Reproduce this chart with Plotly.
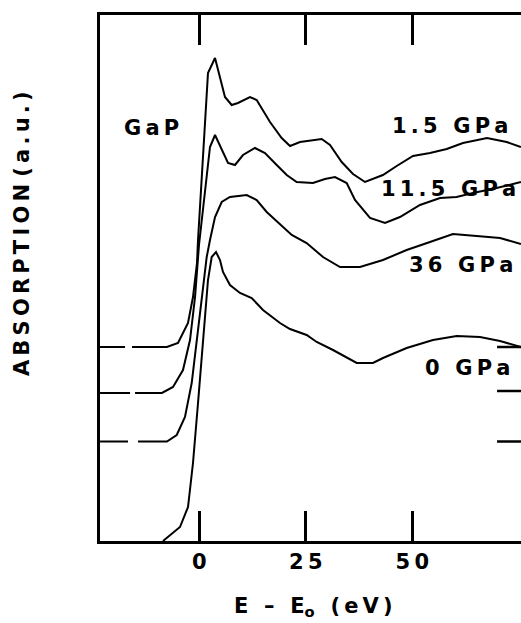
import plotly.graph_objects as go

# ---- data (E - E0 in eV, absorption in a.u. incl. vertical offset) ----
e_15 = [-23.3, -7.6, -5.0, -2.65, -1.48, -0.54, -0.3, 1.74, 2.04, 3.69, 6.03, 7.6, 9.08, 11.9,
        13.47, 16.6, 19.34, 21.3, 23.64, 28.73, 30.68, 33.43, 36.08, 38.9, 43.1, 46.34, 50.16,
        54.15, 58.08, 61.9, 67.54, 72.16, 75.5]
a_15 = [1.94, 1.94, 1.98, 2.18, 2.44, 2.78, 3.01, 4.41, 4.68, 4.83, 4.44, 4.36, 4.38, 4.44,
        4.41, 4.19, 4.03, 3.95, 3.99, 4.02, 3.96, 3.79, 3.67, 3.59, 3.66, 3.75, 3.85,
        3.88, 3.92, 3.98, 4.03, 3.99, 3.94]

e_115 = [-23.3, -8.76, -6.17, -3.83, -2.18, -1.0, -0.07, 1.74, 2.51, 3.69, 5.26, 6.74, 8.38,
         10.26, 13.07, 15.42, 18.17, 20.52, 22.86, 26.69, 29.5, 31.85, 34.6, 36.55, 40.07,
         43.6, 47.1, 51.8, 56.5, 60.4, 64.25, 69.8, 75.5]
a_115 = [1.48, 1.48, 1.54, 1.71, 2.01, 2.44, 2.96, 3.68, 3.94, 4.06, 3.91, 3.78, 3.76,
         3.86, 3.93, 3.88, 3.76, 3.66, 3.59, 3.58, 3.62, 3.64, 3.58, 3.41, 3.23,
         3.18, 3.24, 3.36, 3.43, 3.44, 3.48, 3.53, 3.59]

e_36 = [-23.3, -7.6, -5.3, -3.36, -1.78, -0.61, 0.56, 1.74, 2.51, 3.69, 5.26, 7.2, 11.13,
        13.47, 15.82, 18.47, 21.7, 25.2, 29.04, 33.03, 37.72, 43.12, 48.68, 54.15, 59.55,
        65.1, 70.6, 75.5]
a_36 = [0.995, 0.995, 1.06, 1.24, 1.58, 2.01, 2.44, 2.84, 3.01, 3.24, 3.39, 3.44, 3.46,
        3.41, 3.29, 3.19, 3.06, 2.98, 2.84, 2.74, 2.74, 2.81, 2.91, 2.99, 3.07,
        3.05, 3.03, 2.97]

e_0 = [-8.52, -4.53, -2.65, -1.48, -0.3, 0.87, 2.04, 2.91, 3.92, 4.86, 5.56, 7.2, 9.55, 12.3,
       14.95, 18.94, 21.29, 25.2, 27.56, 31.39, 34.6, 36.95, 40.77, 43.12, 48.68, 54.86,
       60.42, 65.89, 70.6, 74.1, 75.5]
a_0 = [0.0, 0.14, 0.34, 0.78, 1.38, 2.01, 2.61, 2.84, 2.89, 2.81, 2.69, 2.56, 2.48, 2.43,
       2.31, 2.18, 2.12, 2.06, 1.99, 1.91, 1.83, 1.78, 1.78, 1.83, 1.93, 2.01,
       2.05, 2.04, 2.0, 1.96, 1.94]

baselines = [1.94, 1.50, 0.995]          # right-hand baseline markers
marker_e = [69.9, 76.0]

labels = ["1.5 GPa", "11.5 GPa", "36 GPa", "0 GPa"]
label_e = [72.9, 74.8, 74.1, 73.6]
label_a = [4.155, 3.52, 2.76, 1.73]

tick_vals = [0, 25, 50]

FONT = "DejaVu Sans"
FS = 21
TS = "\u2009"


def spaced(s):
    return TS.join(list(s))


fig = go.Figure()
curves = [(e_15, a_15, "25px,7px,4000px"),
          (e_115, a_115, "30px,5px,4000px"),
          (e_36, a_36, "28px,10px,4000px"),
          (e_0, a_0, "solid")]
for e, a, d in curves:
    fig.add_trace(go.Scatter(x=e, y=a, mode="lines", line=dict(color="black", width=2, dash=d),
                             hoverinfo="skip", showlegend=False))

for b in baselines:
    fig.add_trace(go.Scatter(x=marker_e, y=[b, b], mode="lines",
                             line=dict(color="black", width=2.5), showlegend=False,
                             hoverinfo="skip"))

for t, x, y in zip(labels, label_e, label_a):
    fig.add_annotation(x=x, y=y, text="<b>" + spaced(t) + "</b>", showarrow=False,
                       xanchor="right", yanchor="middle",
                       font=dict(family=FONT, size=FS, color="black"))

fig.add_annotation(x=-18.14, y=4.135, text="<b>" + spaced("GaP") + "</b>", showarrow=False,
                   xanchor="left", yanchor="middle", font=dict(family=FONT, size=FS, color="black"))

fig.add_annotation(xref="paper", yref="paper", x=0.508, y=-0.1255,
                   text="<b>E" + TS * 2 + " – " + TS * 2 + "E<sub>o</sub>" + TS * 2 + " (" + TS + "e" + TS + "V" + TS + ")</b>",
                   showarrow=False, xanchor="center", yanchor="middle",
                   font=dict(family=FONT, size=FS, color="black"))

fig.add_annotation(xref="paper", yref="paper", x=-0.185, y=0.5837,
                   text="<b>" + spaced("ABSORPTION") + " " + spaced("(a.u.)") + "</b>",
                   textangle=-90, showarrow=False, xanchor="center", yanchor="middle",
                   font=dict(family=FONT, size=FS, color="black"))

fig.update_layout(
    width=521, height=623,
    margin=dict(l=100, r=0, t=15, b=82),
    paper_bgcolor="white", plot_bgcolor="white",
    font=dict(family=FONT, size=FS, color="black"),
    xaxis=dict(range=[-23.31, 75.52], showgrid=False, zeroline=False,
               showline=True, linecolor="black", linewidth=2.5, mirror="ticks",
               ticks="inside", ticklen=30, tickwidth=2.5, tickcolor="black",
               tickvals=tick_vals, ticktext=["<b>" + spaced(str(v)) + "</b>" for v in tick_vals],
               tickfont=dict(family=FONT, size=FS, color="black")),
    yaxis=dict(range=[0, 5.26], showgrid=False, zeroline=False, showline=True,
               linecolor="black", linewidth=2.5, mirror=False, showticklabels=False,
               ticks=""),
)

fig.write_html("out.html", config={"displayModeBar": False},
               post_script="document.body.style.margin='0';document.body.style.overflow='hidden';")
